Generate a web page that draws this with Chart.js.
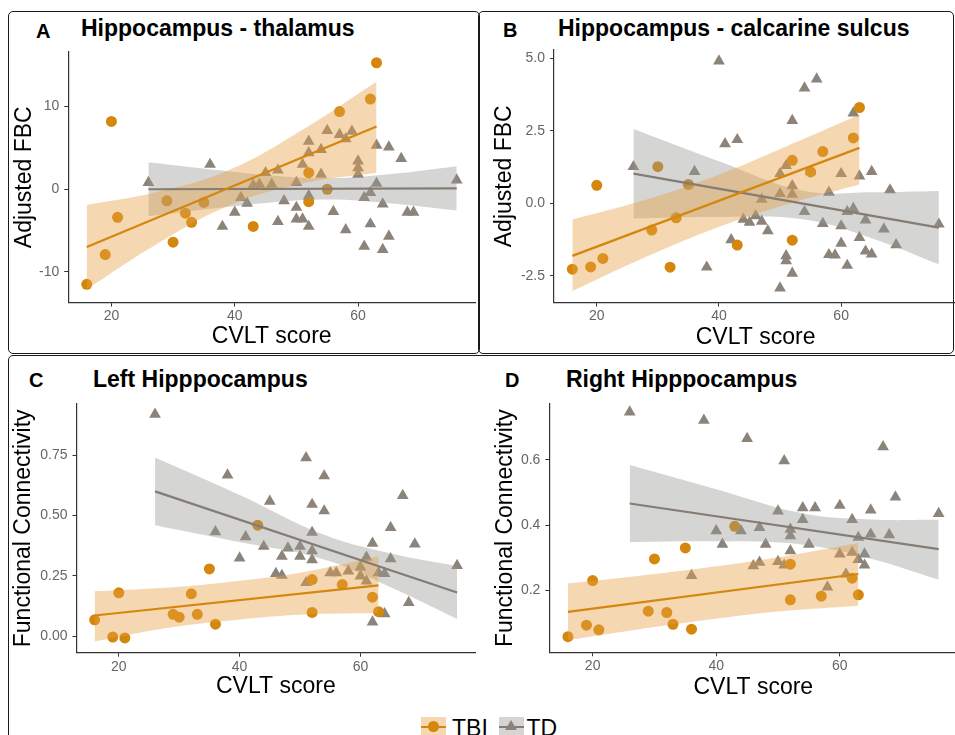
<!DOCTYPE html>
<html>
<head>
<meta charset="utf-8">
<script src="https://cdn.jsdelivr.net/npm/chart.js@4.4.0/dist/chart.umd.min.js"></script>
<style>
    html, body { margin: 0; padding: 0; background: #fff; }
    body { position: relative; width: 955px; height: 735px; overflow: hidden; font-family: "Liberation Sans", Arial, sans-serif; }
    canvas { position: absolute; }
    .frame { position: absolute; box-sizing: border-box; border: 1.6px solid #1a1a1a; border-radius: 5px; }
    .let { position: absolute; font-weight: bold; font-size: 20px; line-height: 20px; color: #000; white-space: nowrap; }
    .ttl { position: absolute; font-weight: bold; font-size: 23px; line-height: 23px; color: #000; white-space: nowrap; }
    .leg { position: absolute; font-size: 23px; line-height: 23px; color: #000; white-space: nowrap; }
    .abs { position: absolute; }
</style>
</head>
<body>
<div class="frame" style="left:8px;top:11px;width:472px;height:343px"></div>
<div class="frame" style="left:478px;top:11px;width:476px;height:343px"></div>
<div class="frame" style="left:8px;top:355px;width:980px;height:420px"></div>

<div class="let" style="left:36px;top:21px">A</div>
<div class="ttl" style="left:81px;top:17px">Hippocampus - thalamus</div>
<div class="let" style="left:503px;top:20px">B</div>
<div class="ttl" style="left:558px;top:17px">Hippocampus - calcarine sulcus</div>
<div class="let" style="left:29px;top:370px">C</div>
<div class="ttl" style="left:93px;top:368px">Left Hipppocampus</div>
<div class="let" style="left:505px;top:370px">D</div>
<div class="ttl" style="left:566px;top:368px">Right Hipppocampus</div>

<canvas id="chartA"></canvas>
<canvas id="chartB"></canvas>
<canvas id="chartC"></canvas>
<canvas id="chartD"></canvas>

<!-- legend -->
<div class="abs" style="left:421px;top:717px;width:24.5px;height:24px;background:#F5D7B1"></div>
<div class="abs" style="left:421px;top:725.5px;width:24.5px;height:2px;background:#D4870C"></div>
<div class="abs" style="left:428px;top:721.3px;width:10.5px;height:10.5px;border-radius:50%;background:#D4870C"></div>
<div class="leg" style="left:452px;top:717px">TBI</div>
<div class="abs" style="left:499px;top:717px;width:24.5px;height:24px;background:#D5D5D3"></div>
<div class="abs" style="left:499px;top:725.5px;width:24.5px;height:2px;background:#857D74"></div>
<div class="abs" style="left:505.3px;top:719.8px;width:0;height:0;border-left:6px solid transparent;border-right:6px solid transparent;border-bottom:10px solid #8C847A"></div>
<div class="leg" style="left:526.5px;top:717px">TD</div>

<script>
// CVLT score ticks shared by all panels
const xTicks = [20, 40, 60];

// fitted line end points and band sample positions
const fitTbiX = [16, 63];
const fitTdX = [26, 76];
const bandTbiXAB = [16, 27, 39, 51, 63];
const bandTbiXCD = [16, 27, 38, 50, 63];
const bandTdX = [26, 40, 54, 65, 76];

// TBI scores
const tbiXAB = [16, 19, 20, 21, 29, 30, 32, 33, 35, 43, 52, 52, 55, 57, 62, 63];
const tbiXCD = [16, 19, 20, 21, 29, 30, 32, 33, 35, 36, 43, 52, 52, 57, 62, 63];

// A: Hippocampus - thalamus
const aYTicks = [-10, 0, 10];
const aTbiY = [-11.5, -7.9, 8.2, -3.4, -1.4, -6.4, -2.9, -4.0, -1.6, -4.5, 2.0, -1.5, 0.0, 9.4, 10.9, 15.3];
const aTdX = [26, 36, 38, 40, 41, 42, 43, 44, 45, 46, 47, 47, 48, 50, 50, 50, 51, 51, 52, 52, 52, 52, 54, 54, 55, 56, 57, 58, 58, 59, 60, 60, 60, 61, 61, 62, 62, 63, 63, 64, 64, 65, 65, 67, 68, 69, 76];
const aTdY = [0.8, 3.0, -4.5, -2.8, -1.0, -1.7, 0.5, 0.6, 2.0, 0.6, 2.3, -3.9, -1.4, 0.8, -2.2, -3.6, -3.6, 3.0, 5.8, 4.4, -4.5, -0.8, 4.8, 1.8, 7.1, -2.7, 6.6, -4.9, 6.1, 7.0, 3.4, 2.6, 1.8, -6.9, -1.0, -4.2, -0.4, 5.3, 0.7, -7.3, -1.8, 5.1, -5.7, 3.7, -2.8, -2.8, 1.1];
const aTbiFit = [-7.0, 7.6];
const aTdFit = [0.0, 0.1];
const aTbiUpper = [-1.9, -0.4, 2.3, 7.2, 13.0];
const aTbiLower = [-12.1, -6.8, -2.0, 0.7, 2.0];
const aTdUpper = [3.25, 2.1, 1.35, 1.82, 2.78];
const aTdLower = [-3.25, -2.05, -1.25, -1.68, -2.58];

// B: Hippocampus - calcarine sulcus
const bYTicks = [-2.5, 0, 2.5, 5];
const bTbiY = [-2.27, -2.19, 0.62, -1.9, -0.92, 1.26, -2.2, -0.5, 0.65, -1.44, 1.48, -1.27, 1.08, 1.78, 2.25, 3.3];
const bTdX = [26, 36, 38, 40, 41, 42, 43, 44, 45, 46, 47, 47, 48, 50, 50, 50, 51, 51, 51, 52, 52, 52, 52, 54, 54, 55, 56, 57, 58, 58, 59, 60, 60, 60, 61, 61, 62, 62, 63, 63, 64, 64, 65, 65, 67, 68, 69, 76];
const bTdY = [1.26, 1.09, -2.2, 4.9, 2.05, -1.26, 2.19, -0.55, -0.66, -0.43, 0.14, -0.62, -0.95, -2.92, 1.02, 0.33, -1.81, -1.98, 1.3, 2.85, 0.6, 0.31, -2.41, 3.97, -0.29, 1.09, 4.28, -0.7, 0.38, -1.77, -1.78, 1.02, -0.78, -1.38, -0.29, -2.14, 3.11, -0.18, 0.94, -1.18, -0.58, -1.65, 1.09, -1.75, -0.89, 0.46, -1.43, -0.72];
const bTbiFit = [-1.81, 1.91];
const bTdFit = [1.02, -0.84];
const bTbiUpper = [-0.56, 0.06, 0.91, 1.96, 3.05];
const bTbiLower = [-3.02, -1.94, -0.89, -0.04, 0.65];
const bTdUpper = [2.56, 1.45, 0.42, 0.38, 0.42];
const bTdLower = [-0.52, -0.47, -0.56, -1.2, -2.1];

// C: Left Hipppocampus
const cYTicks = [0, 0.25, 0.5, 0.75];
const cTbiY = [0.068, -0.003, 0.18, -0.007, 0.091, 0.079, 0.176, 0.091, 0.279, 0.05, 0.46, 0.235, 0.099, 0.214, 0.162, 0.102];
const cTdX = [26, 36, 38, 40, 41, 44, 45, 46, 47, 47, 48, 50, 50, 51, 51, 52, 52, 52, 52, 54, 54, 55, 56, 58, 60, 60, 61, 61, 62, 62, 63, 64, 64, 65, 65, 67, 68, 69, 76];
const cTdY = [0.919, 0.433, 0.668, 0.324, 0.412, 0.372, 0.559, 0.26, 0.331, 0.252, 0.365, 0.372, 0.331, 0.739, 0.222, 0.546, 0.43, 0.354, 0.317, 0.664, 0.519, 0.263, 0.263, 0.27, 0.287, 0.249, 0.327, 0.229, 0.385, 0.059, 0.263, 0.26, 0.093, 0.45, 0.321, 0.583, 0.14, 0.382, 0.293];
const cTbiFit = [0.086, 0.211];
const cTdFit = [0.6, 0.181];
const cTbiUpper = [0.186, 0.2, 0.224, 0.263, 0.331];
const cTbiLower = [-0.022, 0.03, 0.064, 0.089, 0.096];
const cTdUpper = [0.74, 0.585, 0.42, 0.343, 0.291];
const cTdLower = [0.46, 0.39, 0.318, 0.203, 0.072];

// D: Right Hipppocampus
const dYTicks = [0.2, 0.4, 0.6];
const dTbiY = [0.058, 0.093, 0.23, 0.079, 0.136, 0.296, 0.132, 0.096, 0.33, 0.081, 0.396, 0.28, 0.171, 0.182, 0.237, 0.186];
const dTdX = [26, 36, 38, 40, 41, 44, 45, 46, 47, 47, 48, 50, 50, 51, 51, 52, 52, 52, 54, 54, 55, 56, 58, 60, 60, 61, 62, 62, 63, 63, 64, 64, 65, 65, 67, 68, 69, 76];
const dTdY = [0.746, 0.245, 0.721, 0.382, 0.341, 0.382, 0.665, 0.275, 0.392, 0.286, 0.341, 0.443, 0.288, 0.597, 0.277, 0.387, 0.367, 0.321, 0.453, 0.417, 0.341, 0.453, 0.21, 0.46, 0.311, 0.25, 0.417, 0.316, 0.362, 0.294, 0.311, 0.277, 0.372, 0.446, 0.64, 0.37, 0.486, 0.435];
const dTbiFit = [0.134, 0.25];
const dTdFit = [0.466, 0.326];
const dTbiUpper = [0.221, 0.243, 0.268, 0.301, 0.345];
const dTbiLower = [0.047, 0.079, 0.108, 0.135, 0.153];
const dTdUpper = [0.584, 0.51, 0.436, 0.417, 0.416];
const dTdLower = [0.348, 0.35, 0.34, 0.297, 0.233];

const FONT = '"Liberation Sans", Arial, sans-serif';
const TBI = '#D4870C';
const TBI_FILL = 'rgba(232,160,70,0.42)';
const TD = '#8C847A';
const TD_LINE = '#857D74';
const TD_FILL = 'rgba(150,150,145,0.4)';

Chart.defaults.font.family = FONT;

function pts(xs, ys) {
    return xs.map((x, i) => ({ x: x, y: ys[i] }));
}

function drawPanel(p) {
    const cv = document.getElementById(p.id);
    cv.width = p.box.w;
    cv.height = p.box.h;
    cv.style.left = p.box.x + 'px';
    cv.style.top = p.box.y + 'px';
    cv.style.width = p.box.w + 'px';
    cv.style.height = p.box.h + 'px';

    const yw = p.area.l - p.box.x;
    const xh = p.box.y + p.box.h - p.area.b;

    const band = (xs, ys, fill, color) => ({
        data: pts(xs, ys), showLine: true, pointRadius: 0, borderWidth: 0,
        borderColor: 'transparent', backgroundColor: color, fill: fill, tension: 0.4, order: 1
    });

    new Chart(cv.getContext('2d'), {
        type: 'line',
        data: {
            datasets: [
                { data: pts(fitTbiX, p.tbiFit), showLine: true, pointRadius: 0, borderColor: TBI, borderWidth: 2.2, order: 0 },
                { data: pts(fitTdX, p.tdFit), showLine: true, pointRadius: 0, borderColor: TD_LINE, borderWidth: 2.2, order: 0 },
                band(p.bandTbiX, p.tbiUpper, '+1', TBI_FILL),
                band(p.bandTbiX, p.tbiLower, false, TBI_FILL),
                band(bandTdX, p.tdUpper, '+1', TD_FILL),
                band(bandTdX, p.tdLower, false, TD_FILL),
                { data: pts(p.tbiX, p.tbiY), showLine: false, pointStyle: 'circle', pointRadius: 5.5,
                  pointBackgroundColor: TBI, pointBorderWidth: 0, borderColor: TBI, clip: false, order: 2 },
                { data: pts(p.tdX, p.tdY), showLine: false, pointStyle: 'triangle', pointRadius: 6.8,
                  pointBackgroundColor: TD, pointBorderWidth: 0, borderColor: TD, clip: false, order: 2 }
            ]
        },
        options: {
            responsive: false,
            animation: false,
            devicePixelRatio: 1,
            layout: { padding: { left: 0, top: p.area.t - p.box.y, right: p.box.x + p.box.w - p.area.r, bottom: 0 } },
            plugins: { legend: { display: false }, tooltip: { enabled: false } },
            scales: {
                x: {
                    type: 'linear', min: 13, max: 79,
                    afterFit: s => { s.height = xh; },
                    afterBuildTicks: s => { s.ticks = xTicks.map(v => ({ value: v })); },
                    ticks: { color: '#666', font: { size: 14, lineHeight: 1 }, padding: 3, maxRotation: 0, autoSkip: false },
                    grid: { drawOnChartArea: false, tickLength: 4, color: '#333', lineWidth: 1 },
                    border: { color: '#333', width: 1.2 },
                    title: { display: true, text: 'CVLT score', color: '#000',
                             font: { size: 23, lineHeight: 1 }, padding: { top: 0, bottom: p.xPad } }
                },
                y: {
                    type: 'linear', min: p.yMin, max: p.yMax,
                    afterFit: s => { s.width = yw; },
                    afterBuildTicks: s => { s.ticks = p.yTicks.map(v => ({ value: v })); },
                    ticks: { color: '#666', font: { size: 14, lineHeight: 1 }, padding: 5, autoSkip: false,
                             callback: v => v.toFixed(p.dec) },
                    grid: { drawOnChartArea: false, tickLength: 4, color: '#333', lineWidth: 1 },
                    border: { color: '#333', width: 1.2 },
                    title: { display: true, text: p.yTitle, color: '#000',
                             font: { size: 23, lineHeight: 1 }, padding: { top: p.yPad, bottom: 0 } }
                }
            }
        }
    });
}

drawPanel({
    id: 'chartA', box: { x: 8, y: 40, w: 474, h: 310 }, area: { l: 68.25, r: 480.75, t: 50, b: 302.5 },
    yMin: -13.7, yMax: 16.6, yTicks: aYTicks, dec: 0, yTitle: 'Adjusted FBC', yPad: 5, xPad: 1.5,
    tbiX: tbiXAB, tbiY: aTbiY, tdX: aTdX, tdY: aTdY, tbiFit: aTbiFit, tdFit: aTdFit,
    bandTbiX: bandTbiXAB, tbiUpper: aTbiUpper, tbiLower: aTbiLower, tdUpper: aTdUpper, tdLower: aTdLower
});
drawPanel({
    id: 'chartB', box: { x: 478, y: 38, w: 486, h: 312 }, area: { l: 554, r: 962.2, t: 48.5, b: 302.6 },
    yMin: -3.42, yMax: 5.28, yTicks: bYTicks, dec: 1, yTitle: 'Adjusted FBC', yPad: 15, xPad: 1,
    tbiX: tbiXAB, tbiY: bTbiY, tdX: bTdX, tdY: bTdY, tbiFit: bTbiFit, tdFit: bTdFit,
    bandTbiX: bandTbiXAB, tbiUpper: bTbiUpper, tbiLower: bTbiLower, tdUpper: bTdUpper, tdLower: bTdLower
});
drawPanel({
    id: 'chartC', box: { x: 8, y: 392, w: 474, h: 310 }, area: { l: 76.5, r: 479.8, t: 400.4, b: 652.7 },
    yMin: -0.068, yMax: 0.962, yTicks: cYTicks, dec: 2, yTitle: 'Functional Connectivity', yPad: 4.5, xPad: 3.8,
    tbiX: tbiXCD, tbiY: cTbiY, tdX: cTdX, tdY: cTdY, tbiFit: cTbiFit, tdFit: cTdFit,
    bandTbiX: bandTbiXCD, tbiUpper: cTbiUpper, tbiLower: cTbiLower, tdUpper: cTdUpper, tdLower: cTdLower
});
drawPanel({
    id: 'chartD', box: { x: 478, y: 392, w: 486, h: 310 }, area: { l: 549.4, r: 960.4, t: 401.7, b: 652.3 },
    yMin: 0.01, yMax: 0.771, yTicks: dYTicks, dec: 1, yTitle: 'Functional Connectivity', yPad: 16, xPad: 3,
    tbiX: tbiXCD, tbiY: dTbiY, tdX: dTdX, tdY: dTdY, tbiFit: dTbiFit, tdFit: dTdFit,
    bandTbiX: bandTbiXCD, tbiUpper: dTbiUpper, tbiLower: dTbiLower, tdUpper: dTdUpper, tdLower: dTdLower
});
</script>
</body>
</html>
